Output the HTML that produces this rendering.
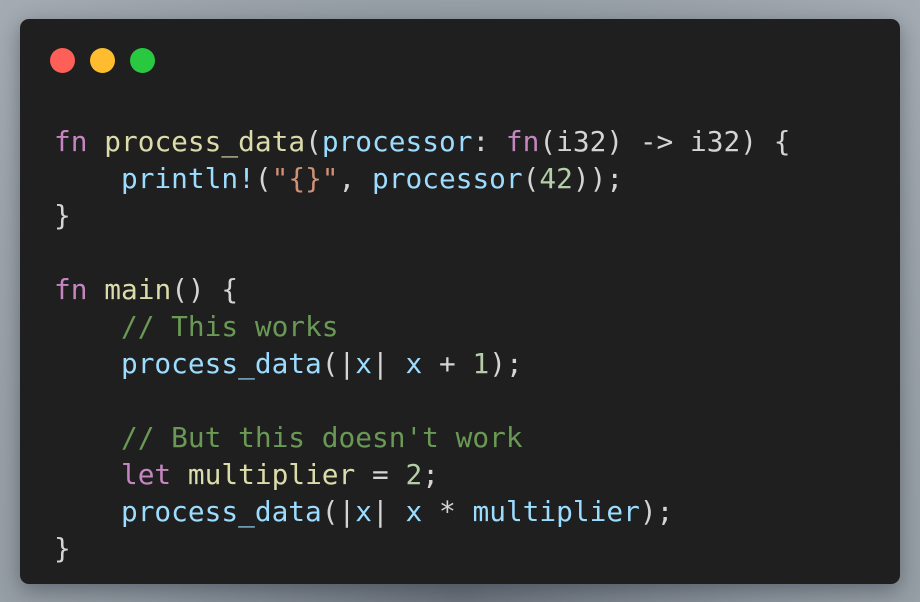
<!DOCTYPE html>
<html><head><style>
html,body{margin:0;padding:0;}
body{width:920px;height:602px;background:#98a0a8;position:relative;overflow:hidden;}
.bgglow{position:absolute;inset:0;background:radial-gradient(ellipse at 50% 100%,#6a727b 0%,#8a939b 45%,#a4abb2 100%);}
.card{position:absolute;left:20px;top:19px;width:880px;height:565px;background:#1f1f1f;border-radius:9px;box-shadow:0 6px 20px rgba(40,45,55,0.45);}
.dot{position:absolute;top:29px;width:25px;height:25px;border-radius:50%;}
pre{position:absolute;left:34px;top:104px;margin:0;font-family:"DejaVu Sans Mono","Liberation Mono",monospace;font-size:27.8px;line-height:37px;color:#d4d4d4;}
.k{color:#c586c0}.f{color:#dcdcaa}.p{color:#9cdcfe}.c{color:#6a9955}.n{color:#b5cea8}.s{color:#ce9178}
</style></head><body>
<div class="bgglow"></div>
<div class="card">
<div class="dot" style="left:30px;background:#fe5f57"></div>
<div class="dot" style="left:70px;background:#febc2e"></div>
<div class="dot" style="left:110px;background:#28c840"></div>
<pre><span class="k">fn</span> <span class="f">process_data</span>(<span class="p">processor</span>: <span class="k">fn</span>(i32) -&gt; i32) {
    <span class="p">println!</span>(<span class="s">"{}"</span>, <span class="p">processor</span>(<span class="n">42</span>));
}

<span class="k">fn</span> <span class="f">main</span>() {
    <span class="c">// This works</span>
    <span class="p">process_data</span>(|<span class="p">x</span>| <span class="p">x</span> + <span class="n">1</span>);

    <span class="c">// But this doesn't work</span>
    <span class="k">let</span> <span class="f">multiplier</span> = <span class="n">2</span>;
    <span class="p">process_data</span>(|<span class="p">x</span>| <span class="p">x</span> * <span class="p">multiplier</span>);
}</pre>
</div>
</body></html>
